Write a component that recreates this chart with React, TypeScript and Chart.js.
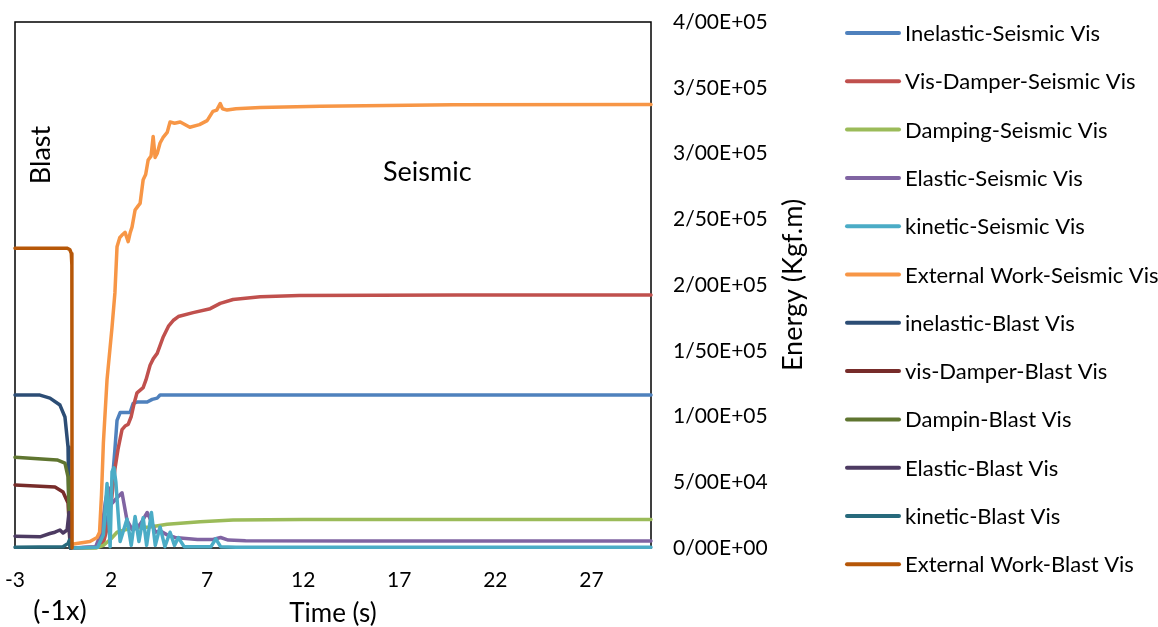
import { useEffect, useRef } from "react";
import { Chart, registerables } from "chart.js";

Chart.register(...registerables);

// Axis settings
const xTickValues = [-3, 2, 7, 12, 17, 22, 27];
const xMin = -3;
const xMax = 30.1;
const yMin = 0;
const yMax = 400000;
const yStep = 50000;

// Seismic loading (time in s, energy in Kgf.m)
const inelasticSeismicT = [0, 1.2, 1.45, 1.7, 1.9, 2.05, 2.2, 2.31, 2.47, 2.99, 3.15, 3.35, 3.88, 4.14, 4.4, 4.55, 8, 15, 22, 30.1];
const inelasticSeismicE = [0, 500, 3000, 15000, 29000, 48000, 75000, 97000, 103000, 103000, 110000, 111000, 111000, 113000, 114000, 116300, 116300, 116300, 116300, 116300];

const visDamperSeismicT = [0, 1.3, 1.6, 1.85, 2.05, 2.2, 2.36, 2.57, 2.75, 2.89, 3.05, 3.2, 3.35, 3.67, 3.82, 4.03, 4.2, 4.4, 4.7, 5.0, 5.23, 5.5, 6.27, 7.16, 7.68, 8.35, 9.76, 11.8, 20, 30.1];
const visDamperSeismicE = [0, 500, 4000, 18000, 40000, 60000, 75000, 90000, 93000, 94000, 100000, 110000, 118000, 122000, 128000, 139000, 144000, 148000, 160000, 169000, 173000, 176000, 179000, 182000, 186000, 189000, 191000, 192000, 192400, 192400];

const dampingSeismicT = [0, 1.2, 1.6, 2.0, 2.31, 2.99, 4.03, 4.92, 6.64, 8.35, 12, 30.1];
const dampingSeismicE = [0, 0, 2000, 7000, 12000, 15000, 16000, 18000, 20000, 21300, 21600, 21600];

const elasticSeismicT = [0, 1.2, 1.5, 1.7, 1.85, 2.05, 2.3, 2.57, 2.83, 3.1, 3.35, 3.6, 3.88, 4.1, 4.3, 4.55, 4.92, 5.33, 5.75, 6.5, 7.3, 7.7, 8.1, 9, 15, 30.1];
const elasticSeismicE = [0, 1000, 12000, 35000, 46000, 34000, 38000, 42000, 21000, 14000, 15000, 20000, 27000, 20000, 12000, 13000, 10000, 8000, 7500, 6500, 6500, 8000, 6000, 5500, 5300, 5300];

const kineticSeismicT = [0, 1.3, 1.6, 1.79, 1.95, 2.05, 2.15, 2.25, 2.47, 2.83, 3.05, 3.25, 3.45, 3.67, 3.85, 4.1, 4.3, 4.55, 4.8, 5.07, 5.3, 5.5, 5.8, 6.5, 7.2, 7.45, 7.7, 8.5, 15, 30.1];
const kineticSeismicE = [0, 500, 10000, 49000, 1000, 58000, 61000, 50000, 5000, 22000, 2000, 24000, 5000, 23000, 2000, 27000, 2000, 16000, 1000, 12000, 2000, 8000, 1000, 1000, 1000, 7000, 1000, 500, 500, 500];

const extWorkSeismicT = [0.05, 0.9, 1.27, 1.4, 1.5, 1.6, 1.79, 2.05, 2.2, 2.31, 2.45, 2.57, 2.73, 2.82, 2.89, 3.0, 3.09, 3.25, 3.4, 3.51, 3.67, 3.8, 3.93, 4.08, 4.19, 4.29, 4.4, 4.55, 4.7, 4.92, 5.07, 5.3, 5.6, 6.1, 6.6, 7.0, 7.3, 7.5, 7.68, 7.8, 8.04, 8.5, 9.76, 12.9, 19.8, 30.1];
const extWorkSeismicE = [3000, 5000, 8000, 12000, 40000, 80000, 128000, 168000, 194000, 229000, 236000, 238000, 240000, 236000, 233000, 240000, 244000, 257000, 260000, 262000, 280000, 284000, 295000, 298000, 313000, 297000, 300000, 308000, 312000, 316000, 324000, 323000, 324000, 320000, 322000, 325000, 332000, 333000, 338000, 334000, 333000, 334000, 335000, 336000, 337000, 337300];

// Blast loading, plotted on the negative time side (-1x)
const inelasticBlastT = [-3, -1.7, -1.18, -0.66, -0.4, -0.24, -0.19, -0.14, -0.1];
const inelasticBlastE = [116300, 116300, 114000, 108700, 99600, 76800, 27000, 2000, 0];

const visDamperBlastT = [-3, -0.92, -0.5, -0.24, -0.19, -0.14, -0.1];
const visDamperBlastE = [48000, 46400, 42600, 34200, 21000, 3000, 0];

const dampinBlastT = [-3, -0.81, -0.4, -0.24, -0.19, -0.14, -0.1];
const dampinBlastE = [69000, 67000, 64600, 54000, 30000, 3000, 0];

const elasticBlastT = [-3, -1.7, -1.18, -0.92, -0.66, -0.5, -0.29, -0.19, -0.14, -0.1];
const elasticBlastE = [9000, 8500, 11000, 12000, 13700, 11400, 13700, 27000, 5000, 0];

const kineticBlastT = [-3, -0.5, -0.24, -0.17, -0.12];
const kineticBlastE = [500, 1000, 3500, 6000, 0];

const extWorkBlastT = [-3, -0.3, -0.15, -0.07, -0.04, -0.03];
const extWorkBlastE = [228000, 228000, 227000, 224000, 215000, 0];

const seriesLabels = [
  "Inelastic-Seismic Vis",
  "Vis-Damper-Seismic Vis",
  "Damping-Seismic Vis",
  "Elastic-Seismic Vis",
  "kinetic-Seismic Vis",
  "External Work-Seismic Vis",
  "inelastic-Blast Vis",
  "vis-Damper-Blast Vis",
  "Dampin-Blast Vis",
  "Elastic-Blast Vis",
  "kinetic-Blast Vis",
  "External Work-Blast Vis",
];

const seriesTimes = [
  inelasticSeismicT, visDamperSeismicT, dampingSeismicT, elasticSeismicT, kineticSeismicT, extWorkSeismicT,
  inelasticBlastT, visDamperBlastT, dampinBlastT, elasticBlastT, kineticBlastT, extWorkBlastT,
];
const seriesEnergies = [
  inelasticSeismicE, visDamperSeismicE, dampingSeismicE, elasticSeismicE, kineticSeismicE, extWorkSeismicE,
  inelasticBlastE, visDamperBlastE, dampinBlastE, elasticBlastE, kineticBlastE, extWorkBlastE,
];

const seriesColors = [
  "#4F81BD", "#C0504D", "#9BBB59", "#8064A2", "#4BACC6", "#F79646",
  "#2C4D75", "#772C2A", "#5F7530", "#4D3B62", "#276A7C", "#B65708",
];

const FONT = "Lato, 'Open Sans', sans-serif";

// Tick format like 4/00E+05 (slash as decimal separator)
function sciLabel(v: number): string {
  const [m, e] = v.toExponential(2).split("e");
  const sign = e[0] === "-" ? "-" : "+";
  const digits = e.replace(/[+-]/, "").padStart(2, "0");
  return m.replace(".", "/") + "E" + sign + digits;
}

const decorations = {
  id: "decorations",
  beforeDatasetsDraw(chart: any) {
    const { ctx, chartArea: a } = chart;
    ctx.save();
    ctx.strokeStyle = "#000";
    ctx.lineWidth = 1.5;
    ctx.strokeRect(a.left, a.top, a.right - a.left, a.bottom - a.top);
    ctx.restore();
  },
  afterDraw(chart: any) {
    const { ctx, chartArea: a } = chart;
    ctx.save();
    ctx.fillStyle = "#000";
    ctx.textBaseline = "middle";

    // Region labels inside the plot
    ctx.font = `27px ${FONT}`;
    ctx.save();
    ctx.translate(41, 155);
    ctx.rotate(-Math.PI / 2);
    ctx.textAlign = "center";
    ctx.fillText("Blast", 0, 0);
    ctx.restore();
    ctx.textAlign = "left";
    ctx.fillText("Seismic", 383, 172);

    // Axis titles
    ctx.textAlign = "center";
    ctx.font = `26px ${FONT}`;
    ctx.fillText("Time (s)", (a.left + a.right) / 2, 614);
    ctx.font = `27px ${FONT}`;
    ctx.fillText("(-1x)", 60, 611);
    ctx.save();
    ctx.translate(793, 285);
    ctx.rotate(-Math.PI / 2);
    ctx.fillText("Energy (Kgf.m)", 0, 0);
    ctx.restore();

    // Legend
    ctx.font = `22px ${FONT}`;
    ctx.textAlign = "left";
    chart.data.datasets.forEach((ds: any, i: number) => {
      const y = 33 + i * 48.3;
      ctx.strokeStyle = ds.borderColor;
      ctx.lineWidth = 4;
      ctx.lineCap = "round";
      ctx.beginPath();
      ctx.moveTo(847, y);
      ctx.lineTo(899, y);
      ctx.stroke();
      ctx.fillStyle = "#000";
      ctx.fillText(ds.label, 905, y + 1);
    });
    ctx.restore();
  },
};

export default function App() {
  const canvasRef = useRef<HTMLCanvasElement | null>(null);

  useEffect(() => {
    const canvas = canvasRef.current;
    if (!canvas) return;
    Chart.defaults.font.family = FONT;

    const datasets = seriesLabels.map((label, i) => ({
      label,
      data: seriesTimes[i].map((t, k) => ({ x: t, y: seriesEnergies[i][k] })),
      borderColor: seriesColors[i],
      backgroundColor: seriesColors[i],
      borderWidth: 3.5,
      pointRadius: 0,
      tension: 0,
      fill: false,
      clip: false as any,
      borderJoinStyle: "round" as const,
      borderCapStyle: "round" as const,
      order: -i,
    }));

    const chart = new Chart(canvas, {
      type: "line",
      data: { datasets },
      options: {
        responsive: false,
        animation: false,
        parsing: false,
        normalized: true,
        layout: { padding: { left: 15, top: 22, right: 0, bottom: 0 } },
        plugins: {
          legend: { display: false },
          tooltip: { enabled: false },
        },
        scales: {
          x: {
            type: "linear",
            min: xMin,
            max: xMax,
            afterBuildTicks: (scale: any) => {
              scale.ticks = xTickValues.map((v) => ({ value: v }));
            },
            afterFit: (scale: any) => {
              scale.height = 79;
              scale.paddingLeft = 0;
              scale.paddingRight = 0;
            },
            grid: { display: false, drawTicks: false },
            border: { display: false },
            ticks: {
              autoSkip: false,
              maxRotation: 0,
              padding: 20,
              color: "#000",
              font: { size: 21 },
              callback: (v: any) => String(v),
            },
          },
          y: {
            type: "linear",
            position: "right",
            min: yMin,
            max: yMax,
            afterFit: (scale: any) => {
              scale.width = 507;
              scale.paddingTop = 0;
              scale.paddingBottom = 0;
            },
            grid: { display: false, drawTicks: false },
            border: { display: false },
            ticks: {
              stepSize: yStep,
              padding: 22,
              color: "#000",
              font: { size: 21 },
              callback: (v: any) => sciLabel(Number(v)),
            },
          },
        },
      },
      plugins: [decorations],
    });

    return () => chart.destroy();
  }, []);

  return (
    <div style={{ position: "absolute", left: 0, top: 0, width: 1158, height: 627, background: "#fff" }}>
      <canvas ref={canvasRef} width={1158} height={627} style={{ display: "block" }} />
    </div>
  );
}
